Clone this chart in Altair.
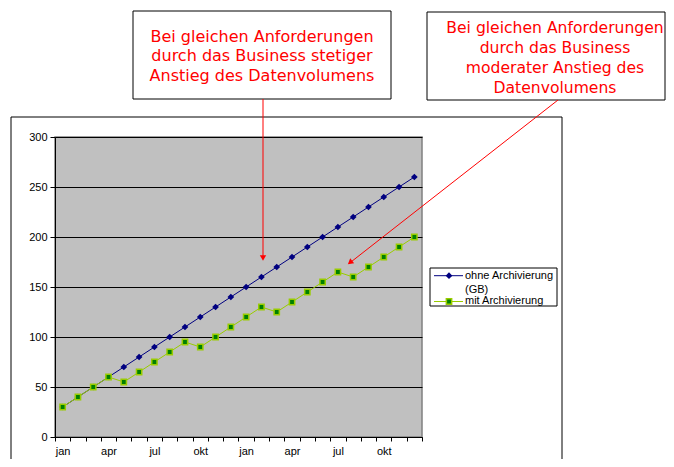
import json
import altair as alt
import pandas as pd

# ---- data ----
month_labels = ["jan", "feb", "mrz", "apr", "mai", "jun", "jul", "aug", "sep", "okt", "nov", "dez",
                "jan", "feb", "mrz", "apr", "mai", "jun", "jul", "aug", "sep", "okt", "nov", "dez"]
ohne_archivierung = [30, 40, 50, 60, 70, 80, 90, 100, 110, 120, 130, 140,
                     150, 160, 170, 180, 190, 200, 210, 220, 230, 240, 250, 260]
mit_archivierung = [30, 40, 50, 60, 55, 65, 75, 85, 95, 90, 100, 110,
                    120, 130, 125, 135, 145, 155, 165, 160, 170, 180, 190, 200]
series_names = ["ohne Archivierung (GB)", "mit Archivierung"]
y_ticks = [0, 50, 100, 150, 200, 250, 300]

annot1_lines = ["Bei gleichen Anforderungen", "durch das Business stetiger", "Anstieg des Datenvolumens"]
annot2_lines = ["Bei gleichen Anforderungen", "durch das Business", "moderater Anstieg des", "Datenvolumens"]

df_ohne = pd.DataFrame({"idx": list(range(len(month_labels))), "value": ohne_archivierung,
                        "series": series_names[0]})
df_mit = pd.DataFrame({"idx": list(range(len(month_labels))), "value": mit_archivierung,
                       "series": series_names[1]})

W, H = 367, 300
AX = "Liberation Sans"
TF = "DejaVu Sans"

label_expr = f"datum.value % 3 == 0 ? {json.dumps(month_labels)}[datum.value] : ''"

x_enc = alt.X("idx:O", scale=alt.Scale(type="band", paddingInner=0, paddingOuter=0),
              axis=alt.Axis(title=None, labelExpr=label_expr, labelAngle=0, tickBand="extent",
                            tickSize=4, tickColor="black", domainColor="black", labelColor="black",
                            labelFont=AX, labelFontSize=11, labelPadding=4, grid=False))
y_enc = alt.Y("value:Q", scale=alt.Scale(domain=[0, 300], nice=False),
              axis=alt.Axis(title=None, values=y_ticks, tickSize=5, tickColor="black",
                            domainColor="black", labelColor="black", labelFont=AX, labelFontSize=11,
                            labelPadding=3, grid=True, gridColor="black", gridWidth=1, gridOpacity=1))

blue_line = alt.Chart(df_ohne).mark_line(color="#000080", strokeWidth=1).encode(x=x_enc, y=y_enc)
blue_pts = alt.Chart(df_ohne).mark_point(shape="diamond", filled=True, color="#000080", size=45,
                                         opacity=1).encode(x=x_enc, y=y_enc)
green_line = alt.Chart(df_mit).mark_line(color="#99CC00", strokeWidth=1).encode(x=x_enc, y=y_enc)
green_pts = alt.Chart(df_mit).mark_point(shape="square", filled=True, fill="#008000", stroke="#99CC00",
                                         strokeWidth=1.5, size=28, opacity=1).encode(x=x_enc, y=y_enc)

one = pd.DataFrame({"a": [0]})


def rect(x1, y1, x2, y2, fill="white", stroke="black", sw=1, fo=1.0):
    return alt.Chart(one).mark_rect(fill=fill, stroke=stroke, strokeWidth=sw, fillOpacity=fo).encode(
        x=alt.value(x1), x2=alt.value(x2), y=alt.value(y1), y2=alt.value(y2))


def rule(x1, y1, x2, y2, color="red", sw=1):
    return alt.Chart(one).mark_rule(color=color, strokeWidth=sw).encode(
        x=alt.value(x1), x2=alt.value(x2), y=alt.value(y1), y2=alt.value(y2))


def text(t, x, y, size=16, font=TF, color="red", align="center"):
    return alt.Chart(one).mark_text(text=t, font=font, fontSize=size, color=color, align=align,
                                    baseline="middle").encode(x=alt.value(x), y=alt.value(y))


layers = []
# outer chart frame
layers.append(rect(-44, -20, 507, 345, fill="white", stroke="black", sw=1, fo=0.0))

# annotation box 1
layers.append(rect(78, -126, 336, -38))
for t, yy in zip(annot1_lines, [-100, -80.6, -61.2]):
    layers.append(text(t, 207, yy))
# annotation box 2
layers.append(rect(372, -125, 610, -37))
for t, yy in zip(annot2_lines, [-109.5, -89, -68.7, -49.5]):
    layers.append(text(t, 500, yy, size=15.6))

# arrows
layers.append(rule(208, -38, 208, 120))
layers.append(alt.Chart(one).mark_point(shape="triangle-down", filled=True, color="red", size=40,
                                        opacity=1).encode(x=alt.value(208), y=alt.value(121)))
layers.append(rule(503, -37, 294, 126.5))
layers.append(alt.Chart(one).mark_point(shape="triangle-down", filled=True, color="red", size=40,
                                        opacity=1, angle=52).encode(x=alt.value(295), y=alt.value(125.5)))

# legend
layers.append(rect(375, 131, 502, 169))
layers.append(rule(379, 138.7, 408, 138.7, color="#000080"))
layers.append(alt.Chart(one).mark_point(shape="diamond", filled=True, color="#000080", size=45,
                                        opacity=1).encode(x=alt.value(394), y=alt.value(138.7)))
layers.append(rule(379, 164.5, 408, 164.5, color="#99CC00"))
layers.append(alt.Chart(one).mark_point(shape="square", filled=True, fill="#008000", stroke="#99CC00",
                                        strokeWidth=1.5, size=28, opacity=1).encode(
    x=alt.value(394), y=alt.value(164.5)))
layers.append(text("ohne Archivierung", 410, 138.5, size=11, font=AX, color="black", align="left"))
layers.append(text("(GB)", 410, 152.5, size=11, font=AX, color="black", align="left"))
layers.append(text("mit Archivierung", 410, 164, size=11, font=AX, color="black", align="left"))

chart = alt.layer(blue_line, blue_pts, green_line, green_pts, *layers).properties(
    width=W, height=H,
    autosize=alt.AutoSizeParams(type="none"),
    padding={"left": 47, "top": 129, "right": 244, "bottom": 22},
).configure_view(fill="#C0C0C0", stroke="#808080", strokeWidth=1.5)

chart.save("out.html", embed_options={"renderer": "svg", "actions": False})
